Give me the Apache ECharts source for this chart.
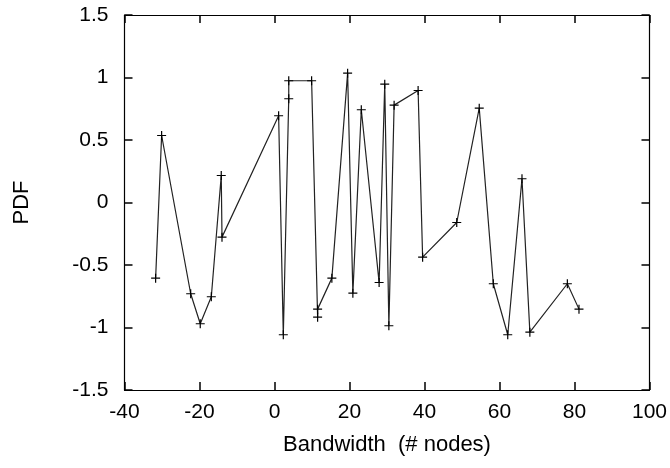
<!DOCTYPE html>
<html><head><meta charset="utf-8">
<script src="https://cdn.jsdelivr.net/npm/echarts@6/dist/echarts.min.js"></script>
<style>html,body{margin:0;padding:0;background:#fff}#c{width:670px;height:468px}</style>
</head><body><div id="c"></div>
<script>
const xValues = [-31.7, -30.1, -22.35, -19.8, -16.85, -14.2, -14.0, 1.1, 2.35, 3.8, 3.8, 9.9, 11.5, 11.5, 15.3, 19.5, 20.9, 23.15, 27.9, 29.4, 30.5, 31.9, 38.3, 39.5, 48.6, 54.6, 58.35, 62.2, 66.0, 68.1, 78.1, 81.2];
const yValues = [-0.605, 0.536, -0.73, -0.97, -0.754, 0.216, -0.277, 0.694, -1.058, 0.83, 0.974, 0.974, -0.917, -0.853, -0.605, 1.035, -0.725, 0.742, -0.64, 0.947, -0.986, 0.779, 0.896, -0.437, -0.16, 0.755, -0.65, -1.058, 0.19, -1.037, -0.65, -0.853];
const xAxisName = 'Bandwidth  (# nodes)';
const yAxisName = 'PDF';

const data = xValues.map((x, i) => [x, yValues[i]]);
const font = 'Liberation Sans, Arial, sans-serif';
const chart = echarts.init(document.getElementById('c'));
const tickStyle = () => ({show: true, inside: true, length: 8, lineStyle: {color: '#000', width: 1.5}});
const axLine = () => ({show: true, onZero: false, lineStyle: {color: '#000', width: 1.2}});
chart.setOption({
  animation: false,
  grid: {left: 124.5, right: 19.5, top: 15, bottom: 78},
  xAxis: [{
    type: 'value', min: -40, max: 100, interval: 20, position: 'bottom',
    name: xAxisName, nameLocation: 'middle', nameGap: 44,
    nameTextStyle: {fontFamily: font, fontSize: 22, color: '#000'},
    axisLine: axLine(), axisTick: tickStyle(), splitLine: {show: false},
    axisLabel: {fontFamily: font, fontSize: 21, color: '#000', margin: 12}
  }, {
    type: 'value', min: -40, max: 100, interval: 20, position: 'top',
    axisLine: axLine(), axisTick: tickStyle(), axisLabel: {show: false}, splitLine: {show: false}
  }],
  yAxis: [{
    type: 'value', min: -1.5, max: 1.5, interval: 0.5, position: 'left',
    name: yAxisName, nameLocation: 'middle', nameGap: 92, nameRotate: 90,
    nameTextStyle: {fontFamily: font, fontSize: 22, color: '#000'},
    axisLine: axLine(), axisTick: tickStyle(), splitLine: {show: false},
    axisLabel: {fontFamily: font, fontSize: 21, color: '#000', margin: 16}
  }, {
    type: 'value', min: -1.5, max: 1.5, interval: 0.5, position: 'right',
    axisLine: axLine(), axisTick: tickStyle(), axisLabel: {show: false}, splitLine: {show: false}
  }],
  series: [{
    type: 'line', data: data, xAxisIndex: 0, yAxisIndex: 0,
    lineStyle: {color: '#222', width: 1.2},
    symbol: 'path://M0,5L10,5M5,0L5,10', symbolSize: 9,
    itemStyle: {color: '#000', borderColor: '#000', borderWidth: 1.2},
    z: 3
  }]
});
</script></body></html>
